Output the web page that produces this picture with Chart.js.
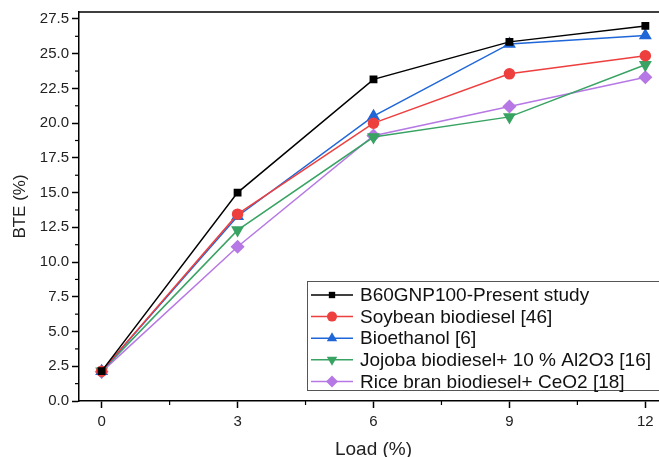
<!DOCTYPE html>
<html><head><meta charset="utf-8">
<script src="https://cdn.jsdelivr.net/npm/chart.js@4.4.0/dist/chart.umd.min.js"></script>
<style>html,body{margin:0;padding:0;background:#fff;overflow:hidden;width:659px;height:457px}#wrap{width:680px;height:461px;position:relative}</style>
</head><body><div id="wrap"><canvas id="c" width="680" height="461"></canvas></div>
<script>
const loads = [0, 3, 6, 9, 12];
const seriesNames = ["B60GNP100-Present study","Soybean biodiesel [46]","Bioethanol [6]","Jojoba biodiesel+ 10 % Al2O3 [16]","Rice bran biodiesel+ CeO2 [18]"];
const b60 = [2.15, 15.0, 23.15, 25.85, 27.0];
const soybean = [2.15, 13.45, 20.0, 23.55, 24.85];
const bioethanol = [2.15, 13.3, 20.5, 25.7, 26.3];
const jojoba = [2.15, 12.3, 19.0, 20.45, 24.2];
const ricebran = [2.1, 11.1, 19.1, 21.2, 23.3];
const yTicks = [0,2.5,5,7.5,10,12.5,15,17.5,20,22.5,25,27.5];
const xTicks = [0,3,6,9,12];
const colors = ['#000000','#ee3f3f','#1f66d8','#38a363','#b678e4'];
const styles = ['rect','circle','triangle','triangleDown','rectRot'];
const radii = [4.5,5,6,6,6];
const all = [b60, soybean, bioethanol, jojoba, ricebran];

function mk(i){
  return {
    label: seriesNames[i],
    data: loads.map((x,k)=>({x:x,y:all[i][k]})),
    borderColor: colors[i], backgroundColor: colors[i],
    borderWidth: 1.5, showLine: true,
    pointStyle: styles[i]==='triangleDown'?'triangle':styles[i],
    pointRotation: styles[i]==='triangleDown'?180:0,
    pointRadius: radii[i], pointHoverRadius: radii[i],
    tension: 0
  };
}
const FONT = 'Liberation Sans, Arial, sans-serif';

const extras = {
  id:'extras',
  afterDatasetsDraw(chart){
    const ctx = chart.ctx, a = chart.chartArea;
    const xs = chart.scales.x, ys = chart.scales.y;
    ctx.save();
    ctx.strokeStyle='#000'; ctx.lineWidth=1.5;
    ctx.beginPath(); ctx.moveTo(a.left,a.top); ctx.lineTo(a.right,a.top); ctx.lineTo(a.right,a.bottom); ctx.stroke();
    ctx.lineWidth=1.2;
    for(let i=0;i<yTicks.length-1;i++){
      const v=(yTicks[i]+yTicks[i+1])/2, p=ys.getPixelForValue(v);
      ctx.beginPath(); ctx.moveTo(a.left,p); ctx.lineTo(a.left-4,p); ctx.stroke();
    }
    for(let i=0;i<xTicks.length-1;i++){
      const v=(xTicks[i]+xTicks[i+1])/2, p=xs.getPixelForValue(v);
      ctx.beginPath(); ctx.moveTo(p,a.bottom); ctx.lineTo(p,a.bottom+4); ctx.stroke();
    }
    const L=307, T=281, R=690, B=390;
    ctx.fillStyle='#fff'; ctx.fillRect(L,T,R-L,B-T);
    ctx.strokeStyle='#555'; ctx.lineWidth=1; ctx.strokeRect(L+0.5,T+0.5,R-L,B-T);
    ctx.font='19px '+FONT; ctx.textBaseline='middle';
    chart.data.datasets.forEach((ds,i)=>{
      const y=T+14+i*21.6;
      ctx.strokeStyle=ds.borderColor; ctx.lineWidth=1.5;
      ctx.beginPath(); ctx.moveTo(L+4,y); ctx.lineTo(L+46,y); ctx.stroke();
      ctx.fillStyle=ds.backgroundColor;
      Chart.helpers.drawPoint(ctx,{pointStyle:ds.pointStyle,rotation:ds.pointRotation,radius:ds.pointRadius,borderWidth:0},L+25,y);
      ctx.fillStyle='#111';
      ctx.fillText(ds.label,L+53,y+1);
    });
    ctx.restore();
  }
};

new Chart(document.getElementById('c'),{
  type:'scatter',
  data:{datasets:[0,1,2,3,4].map(mk)},
  options:{
    responsive:false, animation:false, devicePixelRatio:1,
    layout:{padding:{top:11,right:12,bottom:0,left:0}},
    plugins:{legend:{display:false},tooltip:{enabled:false}},
    scales:{
      x:{type:'linear',min:-0.5,max:12.5,
        afterBuildTicks:s=>{s.ticks=xTicks.map(v=>({value:v}));},
        afterFit:s=>{s.height=60;},
        ticks:{color:'#222',font:{family:FONT,size:15},padding:5,maxRotation:0},
        grid:{drawOnChartArea:false,drawTicks:true,tickLength:7,tickColor:'#000',tickWidth:1.5},
        border:{display:true,color:'#000',width:1.5},
        title:{display:true,text:'Load (%)',color:'#222',font:{family:FONT,size:19},padding:{top:2,bottom:0}}
      },
      y:{type:'linear',min:0,max:28,
        afterBuildTicks:s=>{s.ticks=yTicks.map(v=>({value:v}));},
        afterFit:s=>{s.width=79;},
        ticks:{color:'#222',font:{family:FONT,size:15},padding:3,callback:v=>v.toFixed(1)},
        grid:{drawOnChartArea:false,drawTicks:true,tickLength:7,tickColor:'#000',tickWidth:1.5},
        border:{display:true,color:'#000',width:1.5},
        title:{display:true,text:'BTE (%)',color:'#222',font:{family:FONT,size:17},padding:{top:10,bottom:0}}
      }
    }
  },
  plugins:[extras]
});
</script></body></html>
